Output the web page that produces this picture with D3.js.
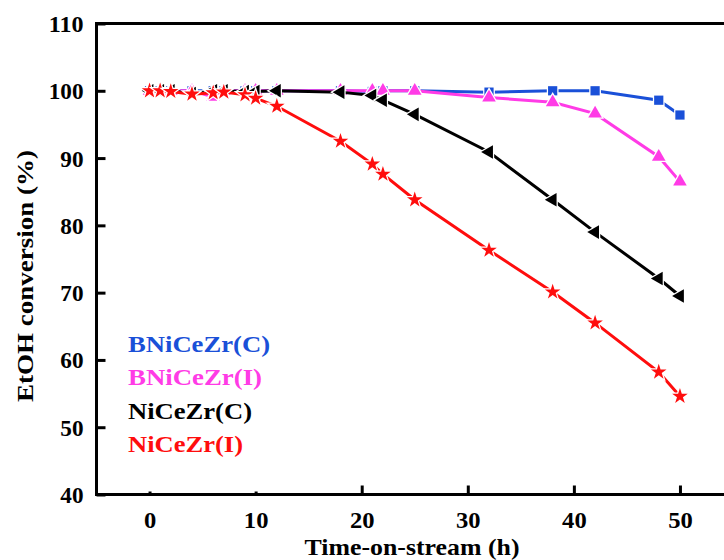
<!DOCTYPE html>
<html>
<head>
<meta charset="utf-8">
<script src="https://cdn.jsdelivr.net/npm/d3@7"></script>
<style>
html,body{margin:0;padding:0;background:#fff;}
svg{display:block;}
</style>
</head>
<body>
<svg id="chart" width="724" height="560"></svg>
<script>
const times = [0,1,2,4,6,7,9,10,12,18,21,22,25,32,38,42,48,50];
const bniCeZrC = [100,100,100,100,100,100,100,100,100,100,99.9,100,100,99.8,100,100,98.6,96.4];
const bniCeZrI = [100,100,100,100,99.1,100,100,100,100,100,100,100,100,99.0,98.3,96.6,90.2,86.5];
const niCeZrC  = [100,100,100,99.6,100,100,99.9,99.9,100,99.8,99.3,98.6,96.5,90.9,83.8,79.0,72.1,69.5];
const niCeZrI  = [100,100,99.9,99.5,99.7,99.8,99.4,98.9,97.7,92.5,89.1,87.6,83.8,76.3,70.1,65.5,58.2,54.6];
const seriesNames = ["BNiCeZr(C)","BNiCeZr(I)","NiCeZr(C)","NiCeZr(I)"];
const seriesColors = ["#1a50d8","#ff3be6","#000000","#ff0d0d"];
const seriesSymbols = ["square","triangleUp","triangleLeft","star"];
const xTicks = [0,10,20,30,40,50];
const yTicks = [40,50,60,70,80,90,100,110];
const xTitle = "Time-on-stream (h)";
const yTitle = "EtOH conversion (%)";

const seriesValues = [bniCeZrC, bniCeZrI, niCeZrC, niCeZrI];
const svg = d3.select("#chart");
const x = d3.scaleLinear().domain([-5,55]).range([96.5,733]);
const y = d3.scaleLinear().domain([40,110]).range([494.5,23.5]);
const font = "'Liberation Serif','Times New Roman',serif";

// frame
svg.append("rect").attr("x",x(-5)).attr("y",y(110)).attr("width",x(55)-x(-5)).attr("height",y(40)-y(110))
  .attr("fill","none").attr("stroke","#000").attr("stroke-width",3);

// x axis
const xAxis = svg.append("g").attr("transform",`translate(0,${y(40)})`)
  .call(d3.axisBottom(x).tickValues(xTicks).tickSize(-9).tickPadding(0).tickFormat(d3.format("d")));
xAxis.select(".domain").remove();
xAxis.selectAll(".tick line").attr("stroke","#000").attr("stroke-width",3)
  .attr("y2", d => d < 20 ? -3 : -9);
xAxis.selectAll(".tick text").attr("y",33).attr("font-family",font).attr("font-weight","bold")
  .attr("font-size",23).attr("fill","#000").attr("dy",null)
  .attr("textLength", d => String(d).length * 12.3).attr("lengthAdjust","spacingAndGlyphs");

// y axis
const yAxis = svg.append("g").attr("transform",`translate(${x(-5)},0)`)
  .call(d3.axisLeft(y).tickValues(yTicks).tickSize(-9).tickPadding(0).tickFormat(d3.format("d")));
yAxis.select(".domain").remove();
yAxis.selectAll(".tick line").attr("stroke","#000").attr("stroke-width",3);
yAxis.selectAll(".tick text").attr("x",-13).attr("dy","0.35em").attr("font-family",font)
  .attr("font-weight","bold").attr("font-size",23).attr("fill","#000")
  .attr("textLength", d => String(d).length * 11.6).attr("lengthAdjust","spacingAndGlyphs");

// titles
svg.append("text").attr("x",412).attr("y",555).attr("text-anchor","middle")
  .attr("font-family",font).attr("font-weight","bold").attr("font-size",23)
  .attr("textLength",215).attr("lengthAdjust","spacingAndGlyphs").text(xTitle);
svg.append("text").attr("transform","translate(33,276) rotate(-90)").attr("text-anchor","middle")
  .attr("font-family",font).attr("font-weight","bold").attr("font-size",23)
  .attr("textLength",252).attr("lengthAdjust","spacingAndGlyphs").text(yTitle);

// series
const symMap = {
  square: {type:d3.symbolSquare,size:85,rot:0},
  triangleUp: {type:d3.symbolTriangle,size:80,rot:0},
  triangleLeft: {type:d3.symbolTriangle,size:80,rot:-90},
  star: {type:d3.symbolStar,size:75,rot:0}
};
const line = d3.line().x(d=>x(d.t)).y(d=>y(d.v));
seriesValues.forEach((vals,i)=>{
  const data = times.map((t,j)=>({t:t,v:vals[j]}));
  const g = svg.append("g");
  g.append("path").datum(data).attr("d",line).attr("fill","none")
    .attr("stroke",seriesColors[i]).attr("stroke-width",3);
  const s = symMap[seriesSymbols[i]];
  g.selectAll("path.m").data(data).enter().append("path").attr("class","m")
    .attr("d",d3.symbol().type(s.type).size(s.size)())
    .attr("transform",d=>`translate(${x(d.t)},${y(d.v)}) rotate(${s.rot})`)
    .attr("fill",seriesColors[i]).attr("stroke","#fff").attr("stroke-width",2.5)
    .attr("paint-order","stroke");
});

// legend
const legendY = [352,385,419,452];
const legendW = [142,134,124,115];
seriesNames.forEach((n,i)=>{
  svg.append("text").attr("x",128).attr("y",legendY[i]).attr("font-family",font)
    .attr("font-weight","bold").attr("font-size",23).attr("fill",seriesColors[i])
    .attr("textLength",legendW[i]).attr("lengthAdjust","spacingAndGlyphs").text(n);
});
</script>
</body>
</html>
